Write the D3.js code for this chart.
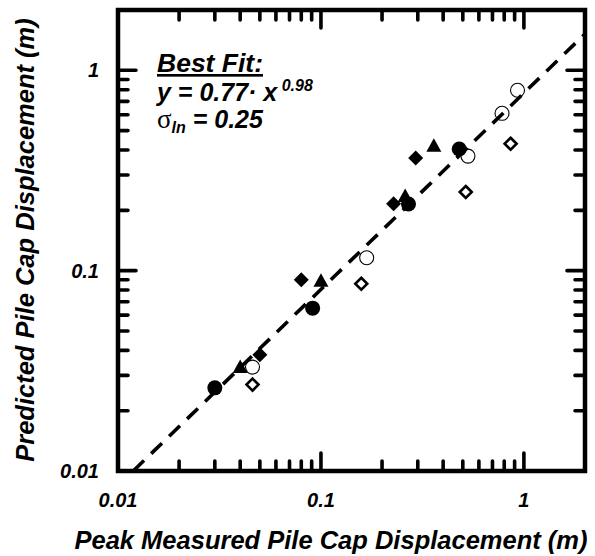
<!DOCTYPE html>
<html>
<head>
<meta charset="utf-8">
<script src="https://cdn.jsdelivr.net/npm/d3@7"></script>
<style>
  body { margin: 0; background: #fff; }
  text { font-family: "Liberation Sans", Arial, sans-serif; font-weight: bold; font-style: italic; }
</style>
</head>
<body>
<div id="chart"></div>
<script>
// axis ticks
const majorTicks = [0.01, 0.1, 1];
const tickLabels = ['0.01', '0.1', '1'];
const minorMultipliers = [2, 3, 4, 5, 6, 7, 8, 9];

// series
const filledCircleX = [0.030, 0.091, 0.270, 0.480];
const filledCircleY = [0.026, 0.065, 0.215, 0.405];
const openCircleX = [0.046, 0.168, 0.530, 0.780, 0.930];
const openCircleY = [0.033, 0.116, 0.373, 0.610, 0.795];
const triangleX = [0.040, 0.100, 0.260, 0.360];
const triangleY = [0.033, 0.089, 0.236, 0.420];
const filledDiamondX = [0.050, 0.080, 0.228, 0.293];
const filledDiamondY = [0.038, 0.090, 0.216, 0.365];
const openDiamondX = [0.046, 0.158, 0.517, 0.860];
const openDiamondY = [0.027, 0.086, 0.247, 0.430];

// best fit y = a * x^b
const fitA = 0.77;
const fitB = 0.98;

const W = 595, H = 556;
const plotL = 118, plotR = 585, plotT = 10, plotB = 471;

const svg = d3.select('#chart').append('svg')
    .attr('width', W)
    .attr('height', H);

const xs = d3.scaleLog().domain([0.01, 2]).range([plotL, plotR]);
const ys = d3.scaleLog().domain([0.01, 2]).range([plotB, plotT]);

const minorTicks = [];
majorTicks.slice(0, 2).forEach(d => minorMultipliers.forEach(m => minorTicks.push(d * m)));

// markers
const zip = (a, b) => a.map((d, i) => [d, b[i]]);

const diamond = r => `M0,${-r}L${r},0L0,${r}L${-r},0Z`;
const triangle = 'M0,-7.5L7.5,6L-7.5,6Z';

const plot = svg.append('g');

plot.selectAll('.odia')
    .data(zip(openDiamondX, openDiamondY))
    .enter()
    .append('path')
        .attr('d', diamond(6))
        .attr('transform', d => `translate(${xs(d[0])},${ys(d[1])})`)
        .attr('fill', '#fff')
        .attr('stroke', '#000')
        .attr('stroke-width', 2.6);

plot.selectAll('.fdia')
    .data(zip(filledDiamondX, filledDiamondY))
    .enter()
    .append('path')
        .attr('d', diamond(7.5))
        .attr('transform', d => `translate(${xs(d[0])},${ys(d[1])})`)
        .attr('fill', '#000');

plot.selectAll('.tri')
    .data(zip(triangleX, triangleY))
    .enter()
    .append('path')
        .attr('d', triangle)
        .attr('transform', d => `translate(${xs(d[0])},${ys(d[1])})`)
        .attr('fill', '#000');

plot.selectAll('.ocir')
    .data(zip(openCircleX, openCircleY))
    .enter()
    .append('circle')
        .attr('cx', d => xs(d[0]))
        .attr('cy', d => ys(d[1]))
        .attr('r', 7)
        .attr('fill', '#fff')
        .attr('stroke', '#000')
        .attr('stroke-width', 1.1);

plot.selectAll('.fcir')
    .data(zip(filledCircleX, filledCircleY))
    .enter()
    .append('circle')
        .attr('cx', d => xs(d[0]))
        .attr('cy', d => ys(d[1]))
        .attr('r', 7.5)
        .attr('fill', '#000');

// fitted line, from where it enters the box to the right edge
const xStart = Math.pow(0.01 / fitA, 1 / fitB);
const fitPts = d3.range(0, 41).map(i => {
    const xv = Math.exp(Math.log(xStart) + (Math.log(2) - Math.log(xStart)) * i / 40);
    return [xv, fitA * Math.pow(xv, fitB)];
});

plot.append('path')
    .datum(fitPts)
    .attr('d', d3.line().x(d => xs(d[0])).y(d => ys(d[1])))
    .attr('fill', 'none')
    .attr('stroke', '#000')
    .attr('stroke-width', 3.6)
    .attr('stroke-dasharray', '15,10');

// frame
svg.append('rect')
    .attr('x', plotL)
    .attr('y', plotT)
    .attr('width', plotR - plotL)
    .attr('height', plotB - plotT)
    .attr('fill', 'none')
    .attr('stroke', '#000')
    .attr('stroke-width', 4.5);

// tick labels
svg.selectAll('.xl')
    .data(majorTicks)
    .enter()
    .append('text')
        .attr('x', d => xs(d))
        .attr('y', 507)
        .attr('text-anchor', 'middle')
        .style('font-size', '20px')
        .text((d, i) => tickLabels[i]);

svg.selectAll('.yl')
    .data(majorTicks)
    .enter()
    .append('text')
        .attr('x', 99)
        .attr('y', d => ys(d) + 7)
        .attr('text-anchor', 'end')
        .style('font-size', '20px')
        .text((d, i) => tickLabels[i]);

// axis titles
svg.append('text')
    .attr('x', 331)
    .attr('y', 549)
    .attr('text-anchor', 'middle')
    .style('font-size', '25.5px')
    .text('Peak Measured Pile Cap Displacement (m)');

svg.append('text')
    .attr('transform', 'translate(34,240) rotate(-90)')
    .attr('text-anchor', 'middle')
    .style('font-size', '25.5px')
    .text('Predicted Pile Cap Displacement (m)');

// best-fit annotation
svg.append('text')
    .attr('x', 157)
    .attr('y', 72)
    .style('font-size', '26.5px')
    .style('text-decoration', 'underline')
    .text('Best Fit:');

const eq = svg.append('text')
    .attr('x', 157)
    .attr('y', 101)
    .style('font-size', '25px');
eq.append('tspan').text('y = 0.77· x');
eq.append('tspan').attr('dy', -10).style('font-size', '16px').text(' 0.98');

const sig = svg.append('text')
    .attr('x', 157)
    .attr('y', 128)
    .style('font-size', '25px');
sig.append('tspan')
    .style('font-family', '"Liberation Serif", serif')
    .style('font-weight', 'normal')
    .style('font-style', 'normal')
    .style('font-size', '27px')
    .text('σ');
sig.append('tspan').attr('dy', 5).style('font-size', '16px').text('ln');
sig.append('tspan').attr('dy', -5).text(' = 0.25');

// ticks on all four sides, pointing in, as one path drawn last
const tickSet = majorTicks.map(v => ({v: v, len: 18}))
    .concat(minorTicks.map(v => ({v: v, len: 10})));
let tickPath = '';
tickSet.forEach(t => {
    const px = xs(t.v), py = ys(t.v);
    tickPath += `M${px},${plotB}V${plotB - t.len}`;
    tickPath += `M${px},${plotT}V${plotT + t.len}`;
    tickPath += `M${plotL},${py}H${plotL + t.len}`;
    tickPath += `M${plotR},${py}H${plotR - t.len}`;
});
svg.append('path')
    .attr('d', tickPath)
    .attr('fill', 'none')
    .attr('stroke', '#000')
    .attr('stroke-width', 3.6)
    .attr('stroke-linecap', 'round');
</script>
</body>
</html>
